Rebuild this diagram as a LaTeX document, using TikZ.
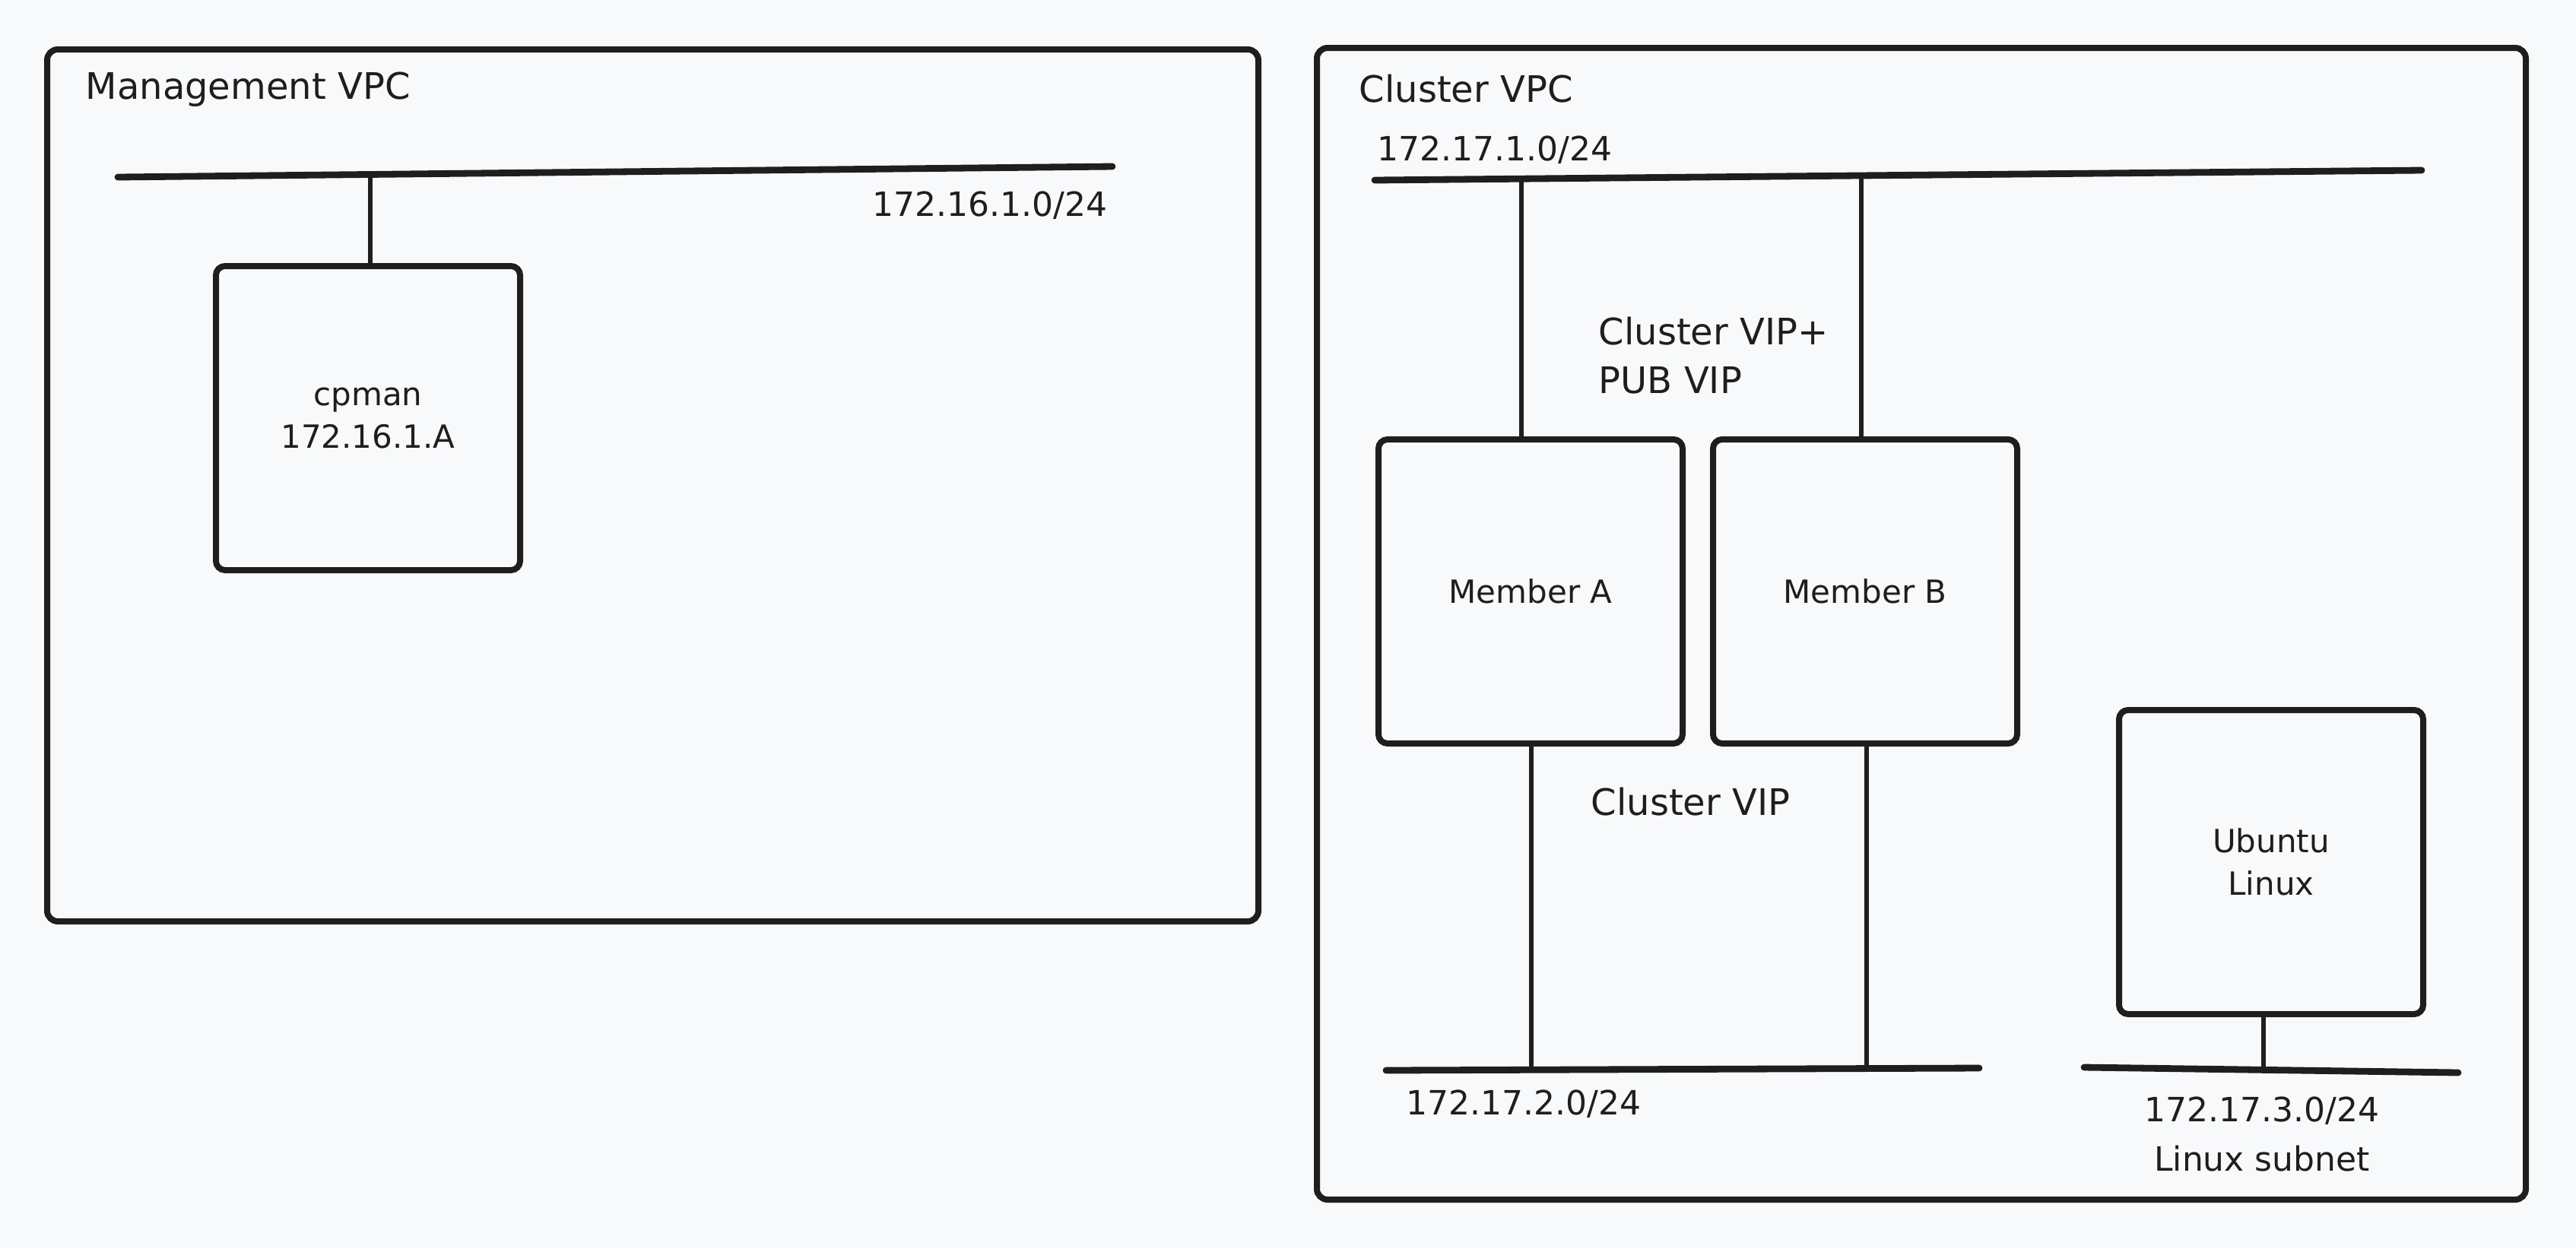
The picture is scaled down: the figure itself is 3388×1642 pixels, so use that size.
\documentclass[tikz,border=0pt]{standalone}
\usepackage{fontspec}
\setmainfont{DejaVu Sans}
\definecolor{bgcol}{HTML}{F8F9FB}
\definecolor{ink}{HTML}{1E1E1E}
\begin{document}
\begin{tikzpicture}[x=0.25pt,y=-0.25pt,
  vpcbox/.style={draw=ink, line width=2pt, rounded corners=3.5pt},
  hostbox/.style={draw=ink, line width=2pt, rounded corners=3pt, minimum width=100pt, minimum height=100pt, inner sep=0pt, align=center, font=\fontsize{10.5}{14}\selectfont, text=ink},
  bus/.style={draw=ink, line width=2.2pt, line cap=round},
  link/.style={draw=ink, line width=1.4pt},
  title/.style={inner sep=0pt, text=ink, font=\fontsize{12}{16}\selectfont},
  subnet/.style={inner sep=0pt, text=ink, font=\fontsize{11}{16.25}\selectfont}
]
\fill[bgcol] (0,0) rectangle (3388,1642);
\useasboundingbox (0,0) rectangle (3388,1642);

% VPC frames
\draw[vpcbox] (62,65) rectangle (1655,1212);
\draw[vpcbox] (1732,63) rectangle (3322,1578);

% titles
\node[title, anchor=west] (mgmtT) at (112,118) {Management VPC};
\node[title, anchor=west] (clT) at (1787,117) {Cluster VPC};

% Management VPC
\coordinate (m1L) at (155,233);
\coordinate (m1R) at (1463,219);
\draw[bus] (m1L) -- (m1R);
\node[subnet, anchor=east] (m1lab) at (1457,270) {172.16.1.0/24};
\node[hostbox] (cpman) at (484,550) {cpman\\172.16.1.A};
\coordinate (m1c) at (487,229.5);
\draw[link] (m1c) -- (m1c |- cpman.north);

% Cluster VPC - subnet 1
\coordinate (c1L) at (1808,237);
\coordinate (c1R) at (3185,224);
\draw[bus] (c1L) -- (c1R);
\node[subnet, anchor=west] (c1lab) at (1811,197) {172.17.1.0/24};

\node[hostbox] (memA) at (2013,778) {Member A};
\node[hostbox] (memB) at (2453,778) {Member B};
\node[hostbox] (ubu) at (2987,1134) {Ubuntu\\Linux};

\coordinate (c1a) at (2001,235.2);
\coordinate (c1b) at (2448,231);
\draw[link] (c1a) -- (c1a |- memA.north);
\draw[link] (c1b) -- (c1b |- memB.north);

\node[title, anchor=west, align=left] (vip1) at (2102,468) {Cluster VIP+\\PUB VIP};

% subnet 2
\coordinate (c2L) at (1823,1408);
\coordinate (c2R) at (2603,1405);
\draw[bus] (c2L) -- (c2R);
\coordinate (c2a) at (2014,1407.5);
\coordinate (c2b) at (2455,1406);
\draw[link] (memA.south -| c2a) -- (c2a);
\draw[link] (memB.south -| c2b) -- (c2b);
\node[title, anchor=west] (vip2) at (2092,1055) {Cluster VIP};
\node[subnet, anchor=west] (c2lab) at (1849,1452) {172.17.2.0/24};

% subnet 3
\coordinate (c3L) at (2741,1404);
\coordinate (c3R) at (3233,1411);
\draw[bus] (c3L) -- (c3R);
\coordinate (c3u) at (2977,1407.4);
\draw[link] (ubu.south -| c3u) -- (c3u);
\node[subnet, align=center] (c3lab) at (2975,1492) {172.17.3.0/24\\Linux subnet};
\end{tikzpicture}
\end{document}
